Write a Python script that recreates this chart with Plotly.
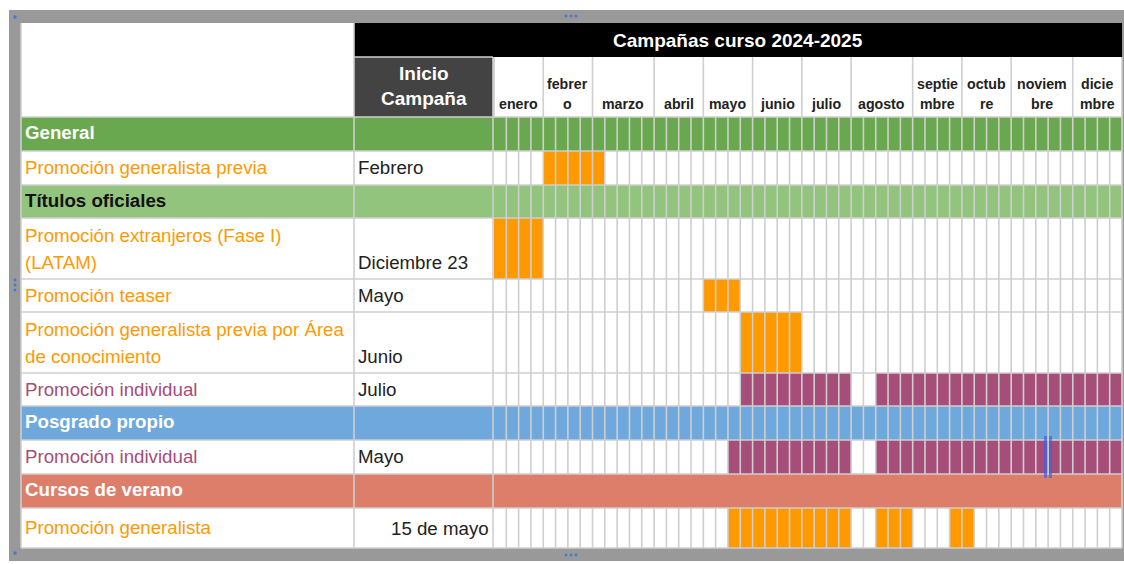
import plotly.graph_objects as go

# ---------------- data ----------------
title = "Campañas curso 2024-2025"
inicio_header = ["Inicio", "Campaña"]
month_lines = [["enero"], ["febrer", "o"], ["marzo"], ["abril"], ["mayo"], ["junio"],
               ["julio"], ["agosto"], ["septie", "mbre"], ["octub", "re"],
               ["noviem", "bre"], ["dicie", "mbre"]]
weeks_per_month = [4, 4, 5, 4, 4, 4, 4, 5, 4, 4, 5, 4]

row_labels = [["General"],
              ["Promoción generalista previa"],
              ["Títulos oficiales"],
              ["Promoción extranjeros (Fase I)", "(LATAM)"],
              ["Promoción teaser"],
              ["Promoción generalista previa por Área", "de conocimiento"],
              ["Promoción individual"],
              ["Posgrado propio"],
              ["Promoción individual"],
              ["Cursos de verano"],
              ["Promoción generalista"]]
row_inicio = ["", "Febrero", "", "Diciembre 23", "Mayo", "Junio", "Julio", "", "Mayo", "", "15 de mayo"]
row_is_group = [True, False, True, False, False, False, False, True, False, True, False]
# active week spans (inclusive, 0 = first week of enero)
row_spans = [[], [(4, 8)], [], [(0, 3)], [(17, 19)], [(20, 24)], [(20, 28), (31, 50)],
             [], [(19, 28), (31, 50)], [], [(19, 28), (31, 33), (37, 38)]]

# ---------------- style / layout ----------------
group_fill = {0: "#6aa84f", 2: "#93c47d", 7: "#6fa8dc", 9: "#dd7e6b"}
group_text = {0: "white", 2: "#111111", 7: "white", 9: "white"}
group_divided = {0: True, 2: True, 7: True, 9: False}
label_color = {1: "#ff9900", 3: "#ff9900", 4: "#ff9900", 5: "#ff9900", 6: "#a64d79",
               8: "#a64d79", 10: "#ff9900"}
bar_color = {1: "#ff9900", 3: "#ff9900", 4: "#ff9900", 5: "#ff9900", 6: "#a64d79",
             8: "#a64d79", 10: "#ff9900"}

SCR_W, SCR_H = 1124, 564
GRID_X0, GRID_X1 = 494, 1122
N_WEEKS = sum(weeks_per_month)
CELL = (GRID_X1 - GRID_X0) / N_WEEKS
TAB_X0, COL1_X, COL2_X = 21, 354, 493
TAB_Y0, HEAD2_Y = 23, 57
row_edges = [117, 151, 185, 218, 279, 312, 373, 406, 440, 474, 508, 548]
FONT = "Liberation Sans, Arial, sans-serif"
GRID_COL = "#cfcfcf"
LBL = 18.7


def px(p):
    """screen pixel column -> week axis units"""
    return (p - GRID_X0) / CELL


shapes = []


def rect(x0, x1, y0, y1, color, layer="below"):
    shapes.append(dict(type="rect", xref="x", yref="y", x0=x0, x1=x1, y0=y0, y1=y1,
                       fillcolor=color, line=dict(width=0), layer=layer))


# frame
rect(px(9), px(1126), 10, 561, "#999999")
rect(px(TAB_X0), px(GRID_X1), TAB_Y0, row_edges[-1], "white")
# header
rect(px(COL1_X), px(GRID_X1), TAB_Y0, HEAD2_Y, "#000000")
rect(px(COL1_X), px(COL2_X), HEAD2_Y, row_edges[0], "#434343")

# group rows and active cells
for i in range(len(row_labels)):
    y0, y1 = row_edges[i], row_edges[i + 1]
    if row_is_group[i]:
        rect(px(TAB_X0), px(GRID_X1), y0, y1, group_fill[i])
    for a, b in row_spans[i]:
        for wk in range(a, b + 1):
            rect(wk, wk + 1, y0, y1, bar_color[i])

# grid lines as one scatter trace
gx, gy = [], []


def seg(x0, y0, x1, y1):
    gx.extend([x0, x1, None])
    gy.extend([y0, y1, None])


for e in row_edges:
    seg(px(TAB_X0), e, px(GRID_X1), e)
seg(px(COL1_X), HEAD2_Y, px(COL2_X), HEAD2_Y)
seg(px(COL1_X), TAB_Y0, px(COL1_X), row_edges[-1])
seg(px(COL2_X), HEAD2_Y, px(COL2_X), row_edges[-1])
seg(px(TAB_X0), TAB_Y0, px(TAB_X0), row_edges[-1])
# month separators in header
m = 0
for n in weeks_per_month:
    seg(m, HEAD2_Y, m, row_edges[0])
    m += n
seg(N_WEEKS, HEAD2_Y, N_WEEKS, row_edges[-1])
# week separators per row
for i in range(len(row_labels)):
    if row_is_group[i] and not group_divided[i]:
        continue
    for wk in range(1, N_WEEKS):
        seg(wk, row_edges[i], wk, row_edges[i + 1])

fig = go.Figure()
fig.add_trace(go.Scatter(x=gx, y=gy, mode="lines", line=dict(color=GRID_COL, width=1.6),
                         hoverinfo="skip", showlegend=False))
# small selection handles
fig.add_trace(go.Scatter(x=[px(566), px(571), px(576), px(566), px(571), px(576), px(15), px(15), px(15)],
                         y=[16, 16, 16, 555, 555, 555, 280, 285, 290], mode="markers",
                         marker=dict(symbol="square", size=2.5, color="#3c78d8"),
                         hoverinfo="skip", showlegend=False))
fig.add_trace(go.Scatter(x=[px(15), px(15)], y=[17, 553], mode="markers",
                         marker=dict(symbol="square", size=3, color="#3c78d8"),
                         hoverinfo="skip", showlegend=False))

ann = []


def text(x, y, s, size, color, bold=False, xanchor="left"):
    ann.append(dict(x=x, y=y, xref="x", yref="y", text=f"<b>{s}</b>" if bold else s,
                    showarrow=False, xanchor=xanchor, yanchor="middle",
                    font=dict(family=FONT, size=size, color=color)))


text(px((COL1_X + GRID_X1) / 2), 40, title, 19, "white", True, "center")
text(px((COL1_X + COL2_X) / 2), 73, inicio_header[0], 19, "white", True, "center")
text(px((COL1_X + COL2_X) / 2), 98, inicio_header[1], 19, "white", True, "center")

m = 0
for lines, n in zip(month_lines, weeks_per_month):
    cx = m + n / 2
    if len(lines) == 1:
        text(cx, 104, lines[0], 14.2, "#222222", True, "center")
    else:
        text(cx, 84, lines[0], 14.2, "#222222", True, "center")
        text(cx, 104, lines[1], 14.2, "#222222", True, "center")
    m += n

for i, lines in enumerate(row_labels):
    y0, y1 = row_edges[i], row_edges[i + 1]
    if row_is_group[i]:
        text(px(23), (y0 + y1) / 2 - 1.5, lines[0], LBL, group_text[i], True)
        continue
    if len(lines) == 1:
        yc = (y0 + y1) / 2 - 0.5
        text(px(23), yc, lines[0], LBL, label_color[i])
        ylast = yc
    else:
        text(px(23), y0 + 17, lines[0], LBL, label_color[i])
        text(px(23), y0 + 44, lines[1], LBL, label_color[i])
        ylast = y0 + 44
    if row_inicio[i]:
        if i == len(row_labels) - 1:
            text(px(491), ylast + 1, row_inicio[i], LBL, "#222222", False, "right")
        else:
            text(px(356), ylast, row_inicio[i], LBL, "#222222")

# odd selection marker (blue bars)
rect(px(1044), px(1047), 436, 478, "rgba(60,100,220,0.7)", "above")
rect(px(1049), px(1052), 436, 478, "rgba(60,100,220,0.7)", "above")

fig.update_layout(
    width=SCR_W, height=SCR_H, margin=dict(l=0, r=0, t=0, b=0),
    paper_bgcolor="white", plot_bgcolor="white",
    shapes=shapes, annotations=ann, showlegend=False,
    xaxis=dict(range=[px(0), px(SCR_W)], visible=False, fixedrange=True),
    yaxis=dict(range=[SCR_H, 0], visible=False, fixedrange=True),
)
fig.write_html("out.html", config={"displayModeBar": False},
               post_script="document.body.style.margin='0';document.body.style.overflow='hidden';")
